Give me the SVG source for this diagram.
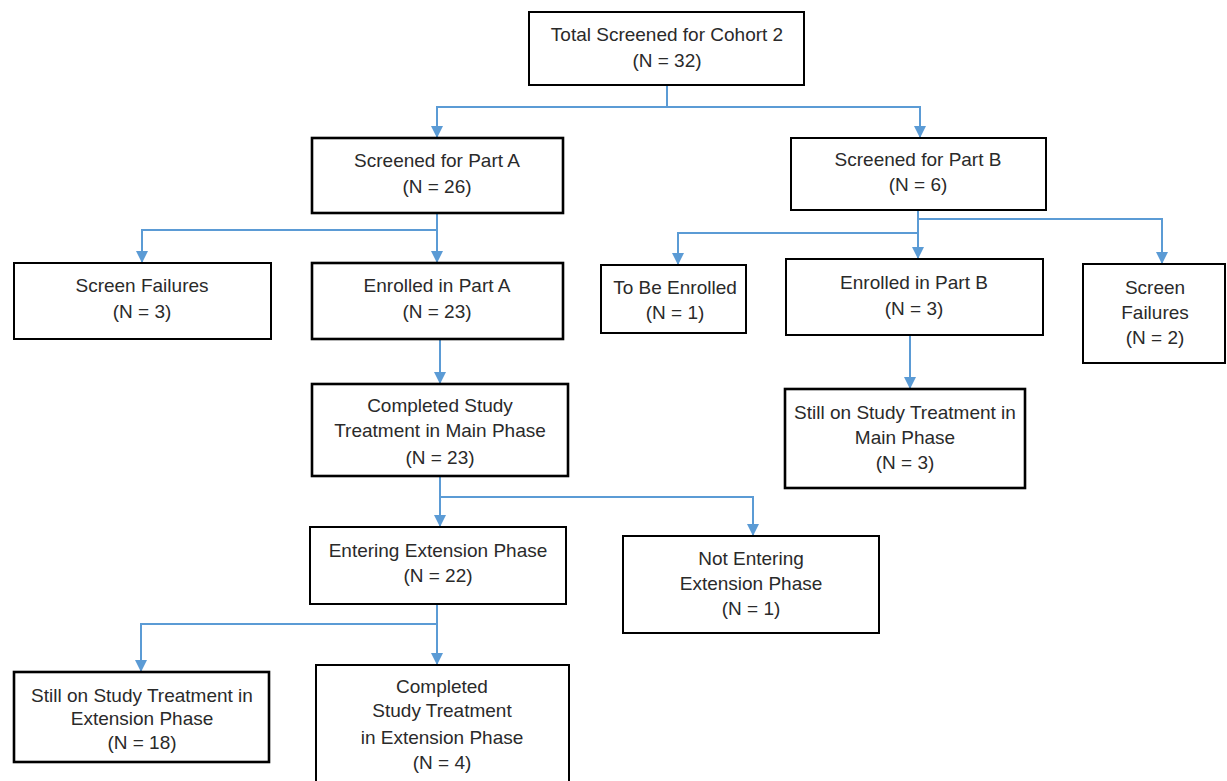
<svg xmlns="http://www.w3.org/2000/svg" width="1227" height="781" viewBox="0 0 1227 781">
<style>
.box{fill:#fff;stroke:#000;stroke-width:2}
.thick{stroke-width:2.6}
text{font-family:"Liberation Sans",Arial,sans-serif;font-size:19px;fill:#2a2a2a;text-anchor:middle}
.conn{fill:none;stroke:#5B9BD5;stroke-width:2}
</style>
<defs>
<marker id="arr" markerUnits="userSpaceOnUse" markerWidth="12" markerHeight="12" viewBox="0 0 12 12" refX="12" refY="6" orient="auto">
<path d="M0,0 L12,6 L0,12 Z" fill="#5B9BD5"/>
</marker>
</defs>
<rect width="1227" height="781" fill="#fff"/>
<g id="connectors">
<path class="conn" d="M667,85 V107 H437 V138" marker-end="url(#arr)"/>
<path class="conn" d="M667,107 H920 V138" marker-end="url(#arr)"/>
<path class="conn" d="M437,213 V230 H142 V263" marker-end="url(#arr)"/>
<path class="conn" d="M437,230 V263" marker-end="url(#arr)"/>
<path class="conn" d="M918,210 V219 H1162 V264" marker-end="url(#arr)"/>
<path class="conn" d="M918,219 V233 H678 V265" marker-end="url(#arr)"/>
<path class="conn" d="M918,233 V259" marker-end="url(#arr)"/>
<path class="conn" d="M440,339 V384" marker-end="url(#arr)"/>
<path class="conn" d="M910,335 V389" marker-end="url(#arr)"/>
<path class="conn" d="M440,476 V497 H753 V536" marker-end="url(#arr)"/>
<path class="conn" d="M440,497 V527" marker-end="url(#arr)"/>
<path class="conn" d="M437,604 V624 H141 V672" marker-end="url(#arr)"/>
<path class="conn" d="M437,624 V665" marker-end="url(#arr)"/>
</g>
<g id="total">
<rect class="box" x="529" y="12" width="275" height="73"/>
<text x="667" y="41">Total Screened for Cohort 2</text>
<text x="667" y="67">(N = 32)</text>
</g>
<g id="screenedA">
<rect class="box thick" x="312" y="138" width="251" height="75"/>
<text x="437" y="167">Screened for Part A</text>
<text x="437" y="193">(N = 26)</text>
</g>
<g id="screenedB">
<rect class="box" x="791" y="138" width="255" height="72"/>
<text x="918" y="166">Screened for Part B</text>
<text x="918" y="191">(N = 6)</text>
</g>
<g id="screenFailuresA">
<rect class="box" x="14" y="263" width="257" height="76"/>
<text x="142" y="292">Screen Failures</text>
<text x="142" y="318">(N = 3)</text>
</g>
<g id="enrolledA">
<rect class="box thick" x="312" y="263" width="251" height="76"/>
<text x="437" y="292">Enrolled in Part A</text>
<text x="437" y="318">(N = 23)</text>
</g>
<g id="toBeEnrolled">
<rect class="box" x="601" y="265" width="145" height="68"/>
<text x="675" y="294">To Be Enrolled</text>
<text x="675" y="319">(N = 1)</text>
</g>
<g id="enrolledB">
<rect class="box" x="786" y="259" width="257" height="76"/>
<text x="914" y="289">Enrolled in Part B</text>
<text x="914" y="315">(N = 3)</text>
</g>
<g id="screenFailuresB">
<rect class="box" x="1083" y="264" width="142" height="99"/>
<text x="1155" y="294">Screen</text>
<text x="1155" y="319">Failures</text>
<text x="1155" y="344">(N = 2)</text>
</g>
<g id="stillMain">
<rect class="box thick" x="785" y="389" width="240" height="99"/>
<text x="905" y="419">Still on Study Treatment in</text>
<text x="905" y="444">Main Phase</text>
<text x="905" y="469">(N = 3)</text>
</g>
<g id="completedMain">
<rect class="box thick" x="312" y="384" width="256" height="92"/>
<text x="440" y="412">Completed Study</text>
<text x="440" y="437">Treatment in Main Phase</text>
<text x="440" y="464">(N = 23)</text>
</g>
<g id="entering">
<rect class="box" x="310" y="527" width="256" height="77"/>
<text x="438" y="557">Entering Extension Phase</text>
<text x="438" y="582">(N = 22)</text>
</g>
<g id="notEntering">
<rect class="box" x="623" y="536" width="256" height="97"/>
<text x="751" y="565">Not Entering</text>
<text x="751" y="590">Extension Phase</text>
<text x="751" y="615">(N = 1)</text>
</g>
<g id="stillExt">
<rect class="box thick" x="14" y="672" width="255" height="90"/>
<text x="142" y="702">Still on Study Treatment in</text>
<text x="142" y="725">Extension Phase</text>
<text x="142" y="749">(N = 18)</text>
</g>
<g id="completedExt">
<rect class="box" x="316" y="665" width="253" height="125"/>
<text x="442" y="693">Completed</text>
<text x="442" y="717">Study Treatment</text>
<text x="442" y="744">in Extension Phase</text>
<text x="442" y="769">(N = 4)</text>
</g>
</svg>
